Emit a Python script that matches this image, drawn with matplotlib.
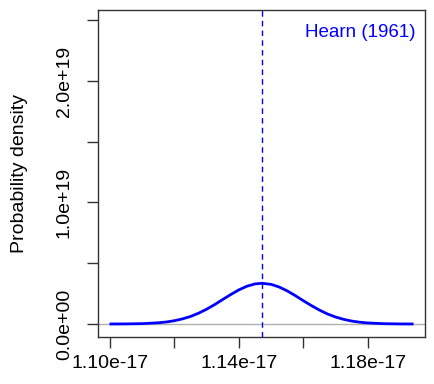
import matplotlib
matplotlib.use("Agg")
import matplotlib.pyplot as plt
from matplotlib.ticker import FixedLocator

plt.rcParams['font.family'] = ['Liberation Sans', 'DejaVu Sans']

# curve (x in units of 1e-17, y in units of 1e18)
x_vals = [1.1003, 1.105, 1.110, 1.115, 1.1175, 1.120, 1.1225, 1.125, 1.1275,
          1.130, 1.1325, 1.135, 1.1375, 1.140, 1.1425, 1.145, 1.1472, 1.150,
          1.1525, 1.155, 1.1575, 1.160, 1.1625, 1.165, 1.1675, 1.170, 1.1725,
          1.175, 1.1775, 1.180, 1.185, 1.190, 1.1937]
y_vals = [0.002, 0.008, 0.03, 0.10, 0.165, 0.27, 0.42, 0.62, 0.89,
          1.22, 1.60, 2.02, 2.43, 2.81, 3.11, 3.30, 3.35, 3.26,
          3.04, 2.72, 2.33, 1.91, 1.51, 1.14, 0.82, 0.57, 0.38,
          0.24, 0.146, 0.085, 0.025, 0.006, 0.002]
ref_x = 1.1470
ref_label = 'Hearn (1961)'

x_ticks = [1.10, 1.12, 1.14, 1.16, 1.18]
x_labels = ['1.10e-17', '', '1.14e-17', '', '1.18e-17']
y_ticks = [0, 5, 10, 15, 20, 25]
y_labels = ['0.0e+00', '', '1.0e+19', '', '2.0e+19', '']

blue = '#0000ff'

x = [v * 1e-17 for v in x_vals]
y = [v * 1e18 for v in y_vals]

fig = plt.figure(figsize=(4.34, 3.84), dpi=100)
ax = fig.add_axes([0.2258, 0.1224, 0.9793 - 0.2258, 0.974 - 0.1224])

ax.axhline(0, color='#b0b0b0', lw=1, zorder=1)
ax.plot(x, y, color=blue, lw=2, zorder=3, solid_joinstyle='round')
ax.axvline(ref_x * 1e-17, color=blue, lw=1, linestyle=(0, (4, 3)), zorder=2)
ax.text(0.97, 0.93, ref_label, transform=ax.transAxes, color=blue,
        fontsize=13.5, ha='right', va='center')

ax.set_xlim(1.0963e-17, 1.1977e-17)
ax.set_ylim(-0.107e19, 2.584e19)

ax.xaxis.set_major_locator(FixedLocator([t * 1e-17 for t in x_ticks]))
ax.set_xticklabels(x_labels)
ax.yaxis.set_major_locator(FixedLocator([t * 1e18 for t in y_ticks]))
ax.set_yticklabels(y_labels, rotation=90, va='center')

ax.tick_params(axis='both', direction='out', length=8, width=1,
               color='#333333', labelsize=14)
ax.tick_params(axis='x', pad=5)
ax.tick_params(axis='y', pad=10)
for s in ax.spines.values():
    s.set_color('#333333')
    s.set_linewidth(1)

ax.set_ylabel('Probability density', fontsize=14, labelpad=20)

fig.savefig('out.png', dpi=100)
